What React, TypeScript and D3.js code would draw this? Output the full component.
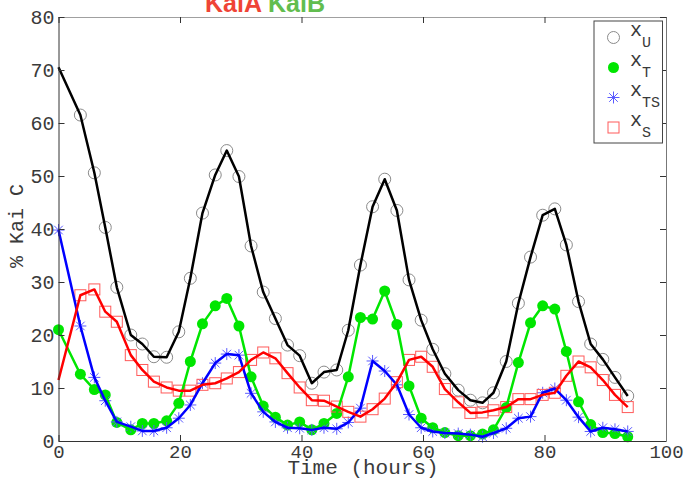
import React, { useEffect, useRef } from 'react';
import * as d3 from 'd3';

// sampling times (hours)
const hours = [0, 3.6, 5.9, 7.7, 9.6, 11.9, 13.8, 15.7, 17.8, 19.8, 21.7, 23.7, 25.8, 27.7, 29.7, 31.7, 33.7, 35.7, 37.7, 39.7, 41.7, 43.7, 45.8, 47.7, 49.7, 51.7, 53.7, 55.7, 57.7, 59.7, 61.6, 63.6, 65.8, 67.8, 69.8, 71.6, 73.7, 75.7, 77.7, 79.7, 81.7, 83.6, 85.6, 87.6, 89.6, 91.6, 93.7];

const xU = [70.5, 61.5, 50.6, 40.3, 29.0, 20.0, 18.3, 15.9, 15.8, 20.6, 30.7, 43.0, 50.2, 54.8, 49.9, 36.8, 28.1, 23.1, 18.1, 16.1, 10.9, 13.0, 13.4, 20.9, 33.2, 44.2, 49.4, 43.5, 30.4, 22.8, 17.3, 12.7, 9.6, 7.7, 7.2, 9.1, 15.0, 26.0, 34.7, 42.6, 43.8, 37.0, 26.3, 18.3, 15.4, 12.0, 8.5];
const xT = [21.0, 12.6, 9.7, 8.7, 3.5, 2.1, 3.3, 3.3, 3.8, 7.1, 15.0, 22.1, 25.5, 26.9, 21.7, 12.1, 6.6, 4.5, 3.0, 3.6, 2.1, 3.3, 5.2, 12.1, 23.3, 23.0, 28.3, 22.0, 10.4, 4.3, 2.5, 1.6, 1.0, 1.0, 1.3, 2.1, 6.3, 14.8, 22.3, 25.5, 24.9, 16.9, 7.4, 3.1, 1.6, 1.4, 0.8];
const xTS = [39.8, 21.7, 12.0, 7.6, 3.6, 2.7, 1.9, 1.9, 2.5, 4.3, 6.8, 10.9, 14.7, 16.4, 16.2, 9.0, 5.5, 3.6, 2.5, 2.4, 2.1, 2.5, 2.3, 3.5, 6.2, 15.1, 13.2, 10.6, 5.0, 2.5, 1.8, 1.5, 1.4, 1.2, 0.8, 1.5, 2.4, 4.3, 4.6, 9.1, 9.9, 7.7, 4.5, 1.8, 2.5, 2.2, 1.8];
const xS = [11.5, 27.5, 28.6, 24.4, 22.5, 16.2, 13.4, 11.2, 10.1, 9.5, 9.5, 10.6, 10.9, 11.8, 13.0, 15.3, 16.7, 15.6, 12.8, 10.1, 7.7, 7.6, 6.5, 5.5, 4.6, 6.0, 8.0, 11.1, 15.3, 15.9, 14.0, 9.8, 7.3, 5.3, 5.4, 5.8, 6.4, 7.9, 7.9, 8.7, 9.1, 12.3, 15.0, 13.9, 11.5, 8.7, 6.4];

const xTicks = [0, 20, 40, 60, 80, 100];
const yTicks = [0, 10, 20, 30, 40, 50, 60, 70, 80];
const legendSubs = ['U', 'T', 'TS', 'S'];

type Marker = 'circle' | 'dot' | 'star' | 'square';

const series: { values: number[]; line: string; mark: string; marker: Marker; markFirst: boolean }[] = [
  { values: xU, line: '#000000', mark: '#8a8a8a', marker: 'circle', markFirst: false },
  { values: xT, line: '#00e600', mark: '#00e600', marker: 'dot', markFirst: true },
  { values: xTS, line: '#0000ff', mark: '#5a5aff', marker: 'star', markFirst: true },
  { values: xS, line: '#ff0000', mark: '#ff5a5a', marker: 'square', markFirst: false },
];

const W = 684;
const H = 482;
const margin = { top: 17, right: 18, bottom: 41, left: 58.5 };
const mono = '"Liberation Mono", "DejaVu Sans Mono", monospace';
const textColor = '#3a3a3a';

function drawMarker(g: d3.Selection<SVGGElement, unknown, null, undefined>, type: Marker, x: number, y: number, color: string) {
  if (type === 'circle') {
    g.append('circle').attr('cx', x).attr('cy', y).attr('r', 6)
      .attr('fill', 'none').attr('stroke', color).attr('stroke-width', 1);
  } else if (type === 'dot') {
    g.append('circle').attr('cx', x).attr('cy', y).attr('r', 5.5).attr('fill', color);
  } else if (type === 'square') {
    g.append('rect').attr('x', x - 5.5).attr('y', y - 5.5).attr('width', 11).attr('height', 11)
      .attr('fill', 'none').attr('stroke', color).attr('stroke-width', 1);
  } else {
    const s = 6, d = 4.3;
    const p = `M${x - s},${y}H${x + s}M${x},${y - s}V${y + s}M${x - d},${y - d}L${x + d},${y + d}M${x - d},${y + d}L${x + d},${y - d}`;
    g.append('path').attr('d', p).attr('stroke', color).attr('stroke-width', 1).attr('fill', 'none');
  }
}

const Chart: React.FC = () => {
  const svgRef = useRef<SVGSVGElement>(null);

  useEffect(() => {
    if (!svgRef.current) return;
    const svg = d3.select(svgRef.current);
    svg.selectAll('*').remove();

    const x = d3.scaleLinear().domain([0, 100]).range([margin.left, W - margin.right]);
    const y = d3.scaleLinear().domain([0, 80]).range([H - margin.bottom, margin.top]);

    // title fragments, clipped at the top of the figure
    svg.append('text').attr('x', 205).attr('y', 12).attr('font-family', '"Liberation Sans", Arial, sans-serif')
      .attr('font-weight', 'bold').attr('font-size', 25).attr('fill', '#ef4436').text('KaiA');
    svg.append('text').attr('x', 268).attr('y', 12).attr('font-family', '"Liberation Sans", Arial, sans-serif')
      .attr('font-weight', 'bold').attr('font-size', 25).attr('fill', '#62bd4f').text('KaiB');

    // markers first, lines on top
    const marks = svg.append('g');
    series.forEach(s => {
      s.values.forEach((v, i) => {
        if (i === 0 && !s.markFirst) return;
        drawMarker(marks, s.marker, x(hours[i]), y(v), s.mark);
      });
    });

    const line = d3.line<number>().x((_, i) => x(hours[i])).y(v => y(v));
    series.forEach(s => {
      svg.append('path').attr('d', line(s.values) || '')
        .attr('fill', 'none').attr('stroke', s.line).attr('stroke-width', 2.5)
        .attr('stroke-linejoin', 'round');
    });

    const styleAxis = (g: d3.Selection<SVGGElement, unknown, null, undefined>, domainColor: string, size = 20) => {
      g.select('.domain').attr('stroke', domainColor);
      g.selectAll('.tick line').attr('stroke', '#333');
      g.selectAll('.tick text').attr('fill', textColor).attr('font-family', mono).attr('font-size', size);
    };

    svg.append('g').attr('transform', `translate(0,${y(0)})`)
      .call(d3.axisBottom(x).tickValues(xTicks).tickSizeInner(-6).tickSizeOuter(0).tickPadding(4))
      .call(g => styleAxis(g, '#333', 19));
    svg.append('g').attr('transform', `translate(0,${y(80)})`)
      .call(d3.axisTop(x).tickValues(xTicks).tickSizeInner(-6).tickSizeOuter(0).tickFormat(() => ''))
      .call(g => styleAxis(g, '#a0a0a0'));
    svg.append('g').attr('transform', `translate(${x(0)},0)`)
      .call(d3.axisLeft(y).tickValues(yTicks).tickSizeInner(-6).tickSizeOuter(0).tickPadding(4))
      .call(g => styleAxis(g, '#333'))
      .call(g => g.selectAll('.tick text').attr('dy', '0.3em'));
    svg.append('g').attr('transform', `translate(${x(100)},0)`)
      .call(d3.axisRight(y).tickValues(yTicks).tickSizeInner(-6).tickSizeOuter(0).tickFormat(() => ''))
      .call(g => styleAxis(g, '#777'));

    // axis titles
    svg.append('text').attr('x', 363).attr('y', 474).attr('text-anchor', 'middle')
      .attr('font-family', mono).attr('font-size', 21).attr('fill', textColor).text('Time (hours)');
    svg.append('text').attr('transform', `translate(23,226) rotate(-90)`).attr('text-anchor', 'middle')
      .attr('font-family', mono).attr('font-size', 20).attr('fill', textColor).text('% Kai C');

    // legend
    const lg = svg.append('g');
    lg.append('rect').attr('x', 594).attr('y', 21).attr('width', 68.5).attr('height', 122)
      .attr('fill', '#fff').attr('stroke', '#444').attr('stroke-width', 1);
    series.forEach((s, i) => {
      const cy = 37.5 + i * 30;
      drawMarker(lg, s.marker, 613.5, cy, s.mark);
      const t = lg.append('text').attr('x', 630).attr('y', cy - 1.5)
        .attr('font-family', mono).attr('font-size', 20).attr('fill', textColor);
      t.append('tspan').text('x');
      t.append('tspan').attr('font-size', 15).attr('dy', 11).text(legendSubs[i]);
    });
  }, []);

  return <svg ref={svgRef} width={W} height={H} viewBox={`0 0 ${W} ${H}`} style={{ display: 'block' }} />;
};

export default function App() {
  return (
    <div style={{ position: 'absolute', left: 0, top: 0, background: '#fff' }}>
      <Chart />
    </div>
  );
}
